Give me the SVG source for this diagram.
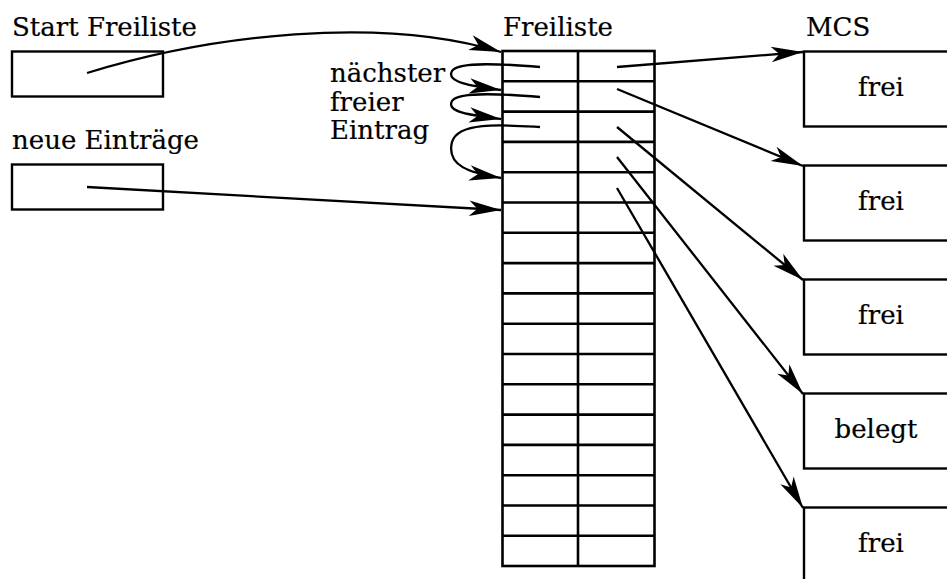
<svg xmlns="http://www.w3.org/2000/svg" width="947" height="579" viewBox="0 0 947 579">
  <style>
    .box { fill: #fff; stroke: #000; stroke-width: 2.4; }
    .grid { fill: none; stroke: #000; stroke-width: 2.6; }
    .lbl { font-family: "DejaVu Serif", "Liberation Serif", serif; font-size: 26px; fill: #000; stroke: #000; stroke-width: 0.2; }
    .mid { text-anchor: middle; }
    .link { fill: none; stroke: #000; stroke-width: 2.3; marker-end: url(#head); }
  </style>
  <defs>
    <marker id="head" markerUnits="userSpaceOnUse" markerWidth="36" markerHeight="20" viewBox="-33 -9 35 18" refX="0" refY="0" orient="auto">
      <path d="M0,0 L-31,-7.5 L-23,0 L-31,7.5 Z" fill="#000"/>
    </marker>
  </defs>
  <rect width="947" height="579" fill="#fff"/>

  <!-- pointer cells on the left -->
  <g id="start-freiliste">
    <text class="lbl" x="12" y="36">Start Freiliste</text>
    <rect class="box" x="12" y="51.5" width="151" height="45"/>
  </g>
  <g id="neue-eintraege">
    <text class="lbl" x="12" y="149">neue Einträge</text>
    <rect class="box" x="12" y="164.5" width="151" height="45"/>
  </g>

  <!-- free list table: 17 rows, 2 columns -->
  <g id="freiliste">
    <text class="lbl" x="503" y="36">Freiliste</text>
    <rect class="grid" x="502.5" y="51" width="152" height="515"/>
    <path class="grid" d="M578,51 V566
      M502.5,81.3 H654.5 M502.5,111.6 H654.5 M502.5,141.9 H654.5 M502.5,172.2 H654.5
      M502.5,202.5 H654.5 M502.5,232.8 H654.5 M502.5,263.1 H654.5 M502.5,293.4 H654.5
      M502.5,323.7 H654.5 M502.5,354 H654.5 M502.5,384.3 H654.5 M502.5,414.6 H654.5
      M502.5,444.9 H654.5 M502.5,475.2 H654.5 M502.5,505.5 H654.5 M502.5,535.8 H654.5"/>
  </g>

  <g id="naechster-freier-eintrag">
    <text class="lbl" x="330" y="82">nächster</text>
    <text class="lbl" x="330" y="110.5">freier</text>
    <text class="lbl" x="330" y="139">Eintrag</text>
  </g>

  <!-- memory control structures -->
  <g id="mcs">
    <text class="lbl" x="806" y="36">MCS</text>
  </g>
  <g id="mcs-1">
    <rect class="box" x="804" y="51.5" width="160" height="75"/>
    <text class="lbl mid" x="881" y="96">frei</text>
  </g>
  <g id="mcs-2">
    <rect class="box" x="804" y="165.5" width="160" height="75"/>
    <text class="lbl mid" x="881" y="210">frei</text>
  </g>
  <g id="mcs-3">
    <rect class="box" x="804" y="279.5" width="160" height="75"/>
    <text class="lbl mid" x="881" y="324">frei</text>
  </g>
  <g id="mcs-4">
    <rect class="box" x="804" y="393.5" width="160" height="75"/>
    <text class="lbl mid" x="876" y="438">belegt</text>
  </g>
  <g id="mcs-5">
    <rect class="box" x="804" y="507.5" width="160" height="75"/>
    <text class="lbl mid" x="881" y="552">frei</text>
  </g>

  <!-- connectors -->
  <g id="connectors">
    <path class="link" d="M87,73 C210,35 380,15 501,52"/>
    <path class="link" d="M87,187 L501,210"/>

    <path class="link" d="M540,67 C505,64 458,61 452,71 C446,82 470,86 501,90"/>
    <path class="link" d="M540,97 C505,94 458,91 452,101 C446,112 470,115 501,119"/>
    <path class="link" d="M540,127 C505,125 458,121 452,142 C446,166 470,173 501,178"/>

    <path class="link" d="M617,67 L803,52"/>
    <path class="link" d="M617,89 L803,166"/>
    <path class="link" d="M617,127 L803,280"/>
    <path class="link" d="M617,157 L803,394"/>
    <path class="link" d="M617,188 L803,508"/>
  </g>
</svg>
